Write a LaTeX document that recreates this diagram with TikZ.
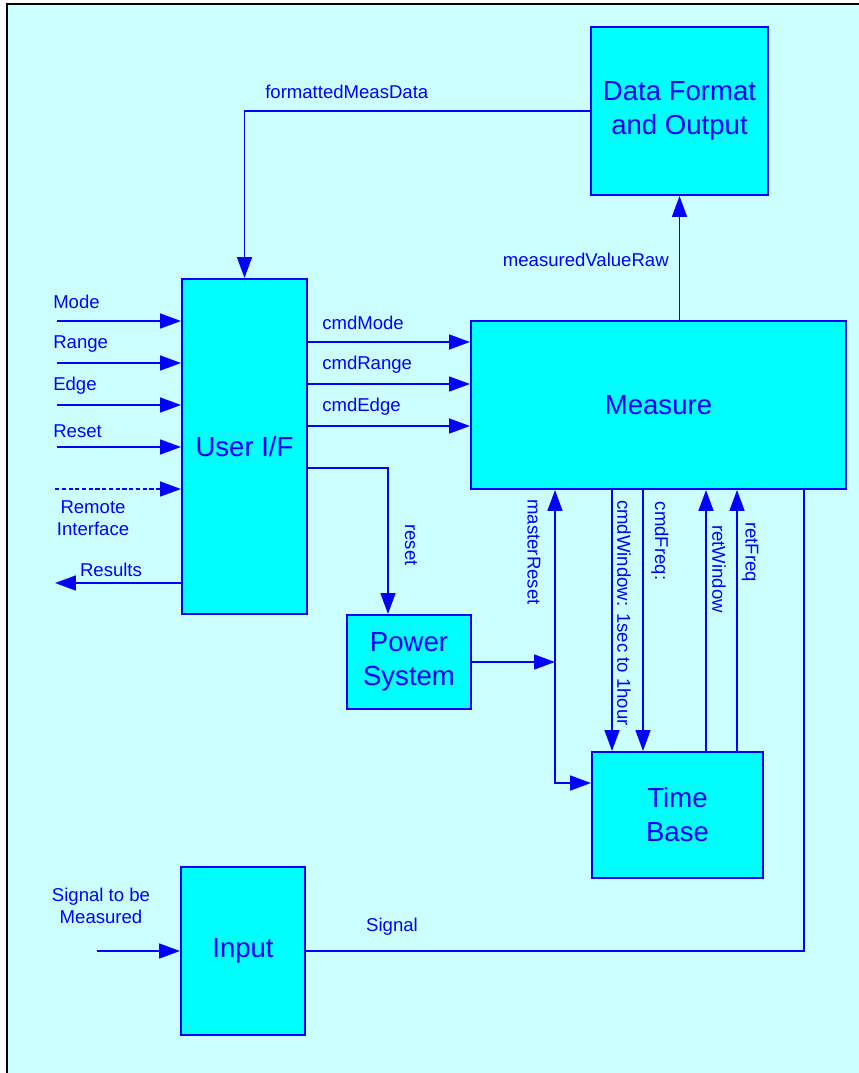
\documentclass[tikz,border=0pt]{standalone}
\usepackage{fontspec}
\setmainfont{Liberation Sans}
\usetikzlibrary{arrows.meta, calc}

\definecolor{fondo}{HTML}{CCFFFF}
\definecolor{bloque}{HTML}{00FFFF}
\definecolor{azul}{HTML}{0000FF}

\begin{document}
\begin{tikzpicture}[
    x=0.025cm, y=-0.025cm,
    >={Triangle[length=14.9pt, width=10.6pt]},
    % Estilo para los bloques del sistema
    blockbox/.style={
        draw=azul,
        fill=bloque,
        line width=1.4pt,
        text=azul,
        align=center,
        inner sep=0pt,
        font=\fontsize{19.6}{24}\selectfont
    },
    % Estilo para las conexiones
    sigline/.style={
        draw=azul,
        line width=1.4pt
    },
    % Estilo para las etiquetas de las senales
    siglabel/.style={
        text=azul,
        align=center,
        inner sep=0pt,
        font=\fontsize{13.2}{16}\selectfont
    }
]

    % ==========================================
    % FONDO Y MARCO
    % ==========================================
    \useasboundingbox (0,0) rectangle (859,1073);
    \clip (0,0) rectangle (859,1073);
    \fill[white] (0,0) rectangle (859,1073);
    \draw[black, line width=1.5pt, fill=fondo] (7,4) rectangle (900,1100);

    % ==========================================
    % BLOQUES
    % ==========================================
    \node[blockbox, minimum width=4.425cm, minimum height=4.2cm] (fmt) at (679.5,111) {Data Format\\and Output};
    \node[blockbox, minimum width=3.125cm, minimum height=8.375cm] (uif) at (244.5,446.5) {User I/F};
    \node[blockbox, minimum width=9.375cm, minimum height=4.2cm] (meas) at (658.5,405) {Measure};
    \node[blockbox, minimum width=3.1cm, minimum height=2.35cm] (pwr) at (409,662) {Power\\System};
    \node[blockbox, minimum width=4.275cm, minimum height=3.15cm] (tb) at (677.5,815) {Time\\Base};
    \node[blockbox, minimum width=3.1cm, minimum height=4.2cm] (inp) at (243,951) {Input};

    % ==========================================
    % SALIDA DE DATOS
    % ==========================================
    \draw[sigline, ->] (fmt.west) -| (uif.north);
    \node[siglabel, anchor=west] at (265,92) {formattedMeasData};

    \draw[sigline, ->] (fmt.south |- meas.north) -- (fmt.south);
    \node[siglabel, anchor=east] at (669,260) {measuredValueRaw};

    % ==========================================
    % ENTRADAS DEL USUARIO
    % ==========================================
    \foreach \nm/\yy/\ly in {Mode/321/302, Range/363/344, Edge/405/386, Reset/447/431} {
        \coordinate (in\nm) at (57,\yy);
        \draw[sigline, ->] (in\nm) -- (in\nm -| uif.west);
        \node[siglabel, anchor=west] at (53,\ly) {\nm};
    }

    % Interfaz remota (discontinua)
    \coordinate (inRemote) at (55,489);
    \draw[sigline, dash pattern=on 3pt off 1.8pt, ->] (inRemote) -- (inRemote -| uif.west);
    \node[siglabel] at (93,518) {Remote\\Interface};

    % Resultados
    \coordinate (resOut) at (55,583);
    \draw[sigline, ->] (uif.west |- resOut) -- (resOut);
    \node[siglabel] at (111,570) {Results};

    % ==========================================
    % COMANDOS HACIA MEASURE
    % ==========================================
    \foreach \nm/\yy/\ly in {cmdMode/342/323, cmdRange/384/365, cmdEdge/426/407} {
        \draw[sigline, ->] (uif.east |- 0,\yy) -- (meas.west |- 0,\yy);
        \node[siglabel, anchor=west] at (322,\ly) {\nm};
    }

    % reset hacia Power System
    \draw[sigline, ->] (uif.east |- 0,468) -| ($(pwr.north)+(-21,0)$);
    \node[siglabel, rotate=-90] at (411,545) {reset};

    % ==========================================
    % MASTER RESET Y TIME BASE
    % ==========================================
    \coordinate (mrx) at (555,783);
    \draw[sigline, ->] (pwr.east) -- (pwr.east -| mrx);
    \draw[sigline, <->] (meas.south -| mrx) -- (mrx) -- (mrx -| tb.west);
    \node[siglabel, rotate=-90] at (534,552) {masterReset};

    \foreach \xx/\dir in {612/->, 643/->, 706/<-, 737/<-} {
        \draw[sigline, \dir] (meas.south -| \xx,0) -- (tb.north -| \xx,0);
    }
    \node[siglabel, rotate=-90] at (624,613) {cmdWindow: 1sec to 1hour};
    \node[siglabel, rotate=-90] at (660,541) {cmdFreq:};
    \node[siglabel, rotate=-90] at (719,569) {retWindow};
    \node[siglabel, rotate=-90] at (750,552) {retFreq};

    % ==========================================
    % SENAL DE ENTRADA
    % ==========================================
    \coordinate (sigIn) at (97,951);
    \draw[sigline, ->] (sigIn) -- (inp.west);
    \node[siglabel] at (101,906) {Signal to be\\Measured};

    \draw[sigline] (inp.east) -| (meas.south -| 804,0);
    \node[siglabel] at (392,927) {Signal};

\end{tikzpicture}
\end{document}
